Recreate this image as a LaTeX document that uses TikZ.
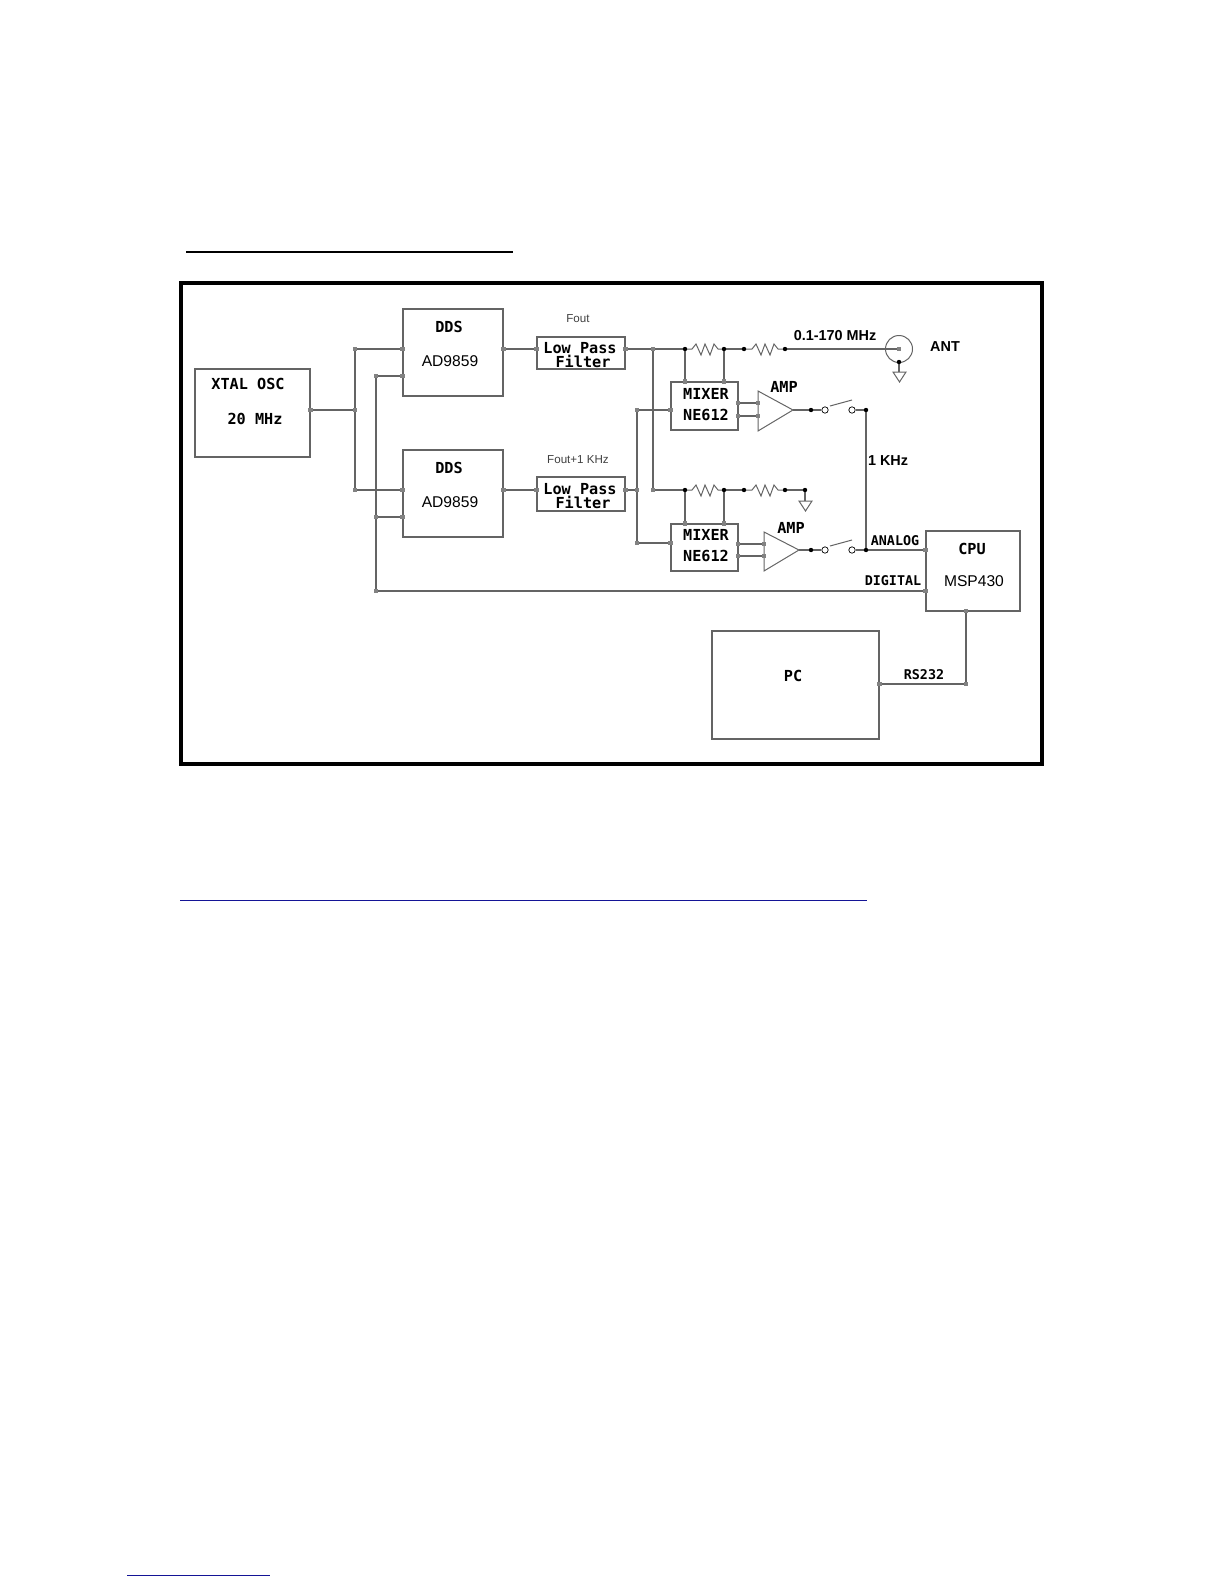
\documentclass[tikz,border=0pt]{standalone}
\usepackage{fontspec}
\setmainfont{Liberation Sans}
\newfontfamily\pixfont{DejaVu Sans Mono}[Scale=1]
\usetikzlibrary{calc}

\definecolor{wire}{RGB}{100,100,100}
\definecolor{pin}{RGB}{130,130,130}
\definecolor{linkblue}{RGB}{20,20,150}

\tikzset{
  blockbox/.style={draw=wire, line width=0.6pt, inner sep=0pt},
  wireline/.style={draw=wire, line width=0.55pt},
  pinspot/.style={fill=pin, minimum size=2.3pt, inner sep=0pt, draw=none, rectangle},
  dotspot/.style={fill=black, circle, minimum size=2.2pt, inner sep=0pt, draw=none},
  contact/.style={draw=black, fill=white, circle, minimum size=3.2pt, inner sep=0pt, line width=0.35pt},
  pixlabel/.style={font=\pixfont\bfseries\fontsize{7.6}{8}\selectfont, inner sep=0pt},
  pixsmall/.style={font=\pixfont\bfseries\fontsize{6.7}{7}\selectfont, inner sep=0pt},
  partlabel/.style={font=\fontsize{7.8}{9}\selectfont, inner sep=0pt},
  boldlabel/.style={font=\bfseries\fontsize{7.2}{8}\selectfont, inner sep=0pt},
  freqlabel/.style={font=\fontsize{5.8}{6}\selectfont, text=black!75, inner sep=0pt}
}

\begin{document}
\begin{tikzpicture}[x=0.5pt,y=-0.5pt]
\useasboundingbox (0,0) rectangle (1224,1584);

% page rules
\coordinate (ruleA) at (186,252);
\coordinate (ruleB) at (513,252);
\coordinate (ruleC) at (180,900);
\coordinate (ruleD) at (867,900);
\coordinate (ruleE) at (127,1575);
\coordinate (ruleF) at (270,1575);
\draw[line width=1pt] (ruleA)--(ruleB);
\draw[line width=0.5pt, linkblue] (ruleC)--(ruleD);
\draw[line width=0.5pt, linkblue] (ruleE)--(ruleF);

% frame
\draw[line width=2pt] (181,283) rectangle (1042,764);

% blocks
\node[blockbox, minimum width=57.5pt, minimum height=44pt] (xtal) at (252.5,413) {};
\node[blockbox, minimum width=50pt, minimum height=43.5pt] (ddsA) at (453,352.5) {};
\node[blockbox, minimum width=50pt, minimum height=43.5pt] (ddsB) at (453,493.5) {};
\node[blockbox, minimum width=44pt, minimum height=16pt] (lpfA) at (581,353) {};
\node[blockbox, minimum width=44pt, minimum height=17pt] (lpfB) at (581,494) {};
\node[blockbox, minimum width=33.5pt, minimum height=24pt] (mixA) at (704.5,406) {};
\node[blockbox, minimum width=33.5pt, minimum height=23.5pt] (mixB) at (704.5,547.5) {};
\node[blockbox, minimum width=47pt, minimum height=40pt] (cpu) at (973,571) {};
\node[blockbox, minimum width=83.5pt, minimum height=54pt] (pc) at (795.5,685) {};
\node[draw=wire, circle, line width=0.5pt, minimum size=13.5pt, inner sep=0pt] (ant) at (899,349) {};

% amplifiers
\draw[wireline, line width=0.5pt] (758,391)--(793,410)--(758,431)--cycle;
\draw[wireline, line width=0.5pt] (764,532)--(799,550)--(764,571)--cycle;
\coordinate (ampAtip) at (793,410);
\coordinate (ampBtip) at (799,550);

% junctions
\coordinate (xtalOut) at (xtal.east |- 0,410);
\coordinate (clkMid) at (355,410);
\coordinate (clkA) at (355,349);
\coordinate (clkB) at (355,490);
\coordinate (ddsAclk) at (ddsA.west |- 0,349);
\coordinate (ddsBclk) at (ddsB.west |- 0,490);
\coordinate (digA) at (376,376);
\coordinate (digB) at (376,517);
\coordinate (digC) at (376,591);
\coordinate (ddsAdig) at (ddsA.west |- 0,376);
\coordinate (ddsBdig) at (ddsB.west |- 0,517);
\coordinate (cpuDig) at (cpu.west |- 0,591);
\coordinate (cpuAna) at (cpu.west |- 0,550);
\coordinate (cpuSer) at (966,611);
\coordinate (serBend) at (966,684);
\coordinate (pcSer) at (pc.east |- 0,684);
\coordinate (ddsAout) at (ddsA.east |- 0,349);
\coordinate (ddsBout) at (ddsB.east |- 0,490);
\coordinate (lpfAin) at (lpfA.west |- 0,349);
\coordinate (lpfBin) at (lpfB.west |- 0,490);
\coordinate (lpfAout) at (lpfA.east |- 0,349);
\coordinate (lpfBout) at (lpfB.east |- 0,490);
\coordinate (splitA) at (653,349);
\coordinate (splitB) at (653,490);
\coordinate (loTop) at (637,410);
\coordinate (loMid) at (637,490);
\coordinate (loBot) at (637,543);
\coordinate (mixAlo) at (mixA.west |- 0,410);
\coordinate (mixBlo) at (mixB.west |- 0,543);
\coordinate (mixAp) at (738,403);
\coordinate (mixAq) at (738,416);
\coordinate (ampAp) at (758,403);
\coordinate (ampAq) at (758,416);
\coordinate (mixBp) at (738,544);
\coordinate (mixBq) at (738,556);
\coordinate (ampBp) at (764,544);
\coordinate (ampBq) at (764,556);
\coordinate (resAa) at (685,349);
\coordinate (resAb) at (724,349);
\coordinate (resAc) at (744,349);
\coordinate (resAd) at (785,349);
\coordinate (resBa) at (685,490);
\coordinate (resBb) at (724,490);
\coordinate (resBc) at (744,490);
\coordinate (resBd) at (785,490);
\coordinate (gndB) at (805,490);
\coordinate (gndA) at (899,362);
\coordinate (busTop) at (866,410);
\coordinate (busBot) at (866,550);

% wires
\draw[wireline] (xtalOut)--(clkMid);
\draw[wireline] (clkA)--(clkB);
\draw[wireline] (clkA)--(ddsAclk);
\draw[wireline] (clkB)--(ddsBclk);
\draw[wireline] (digA)--(digC);
\draw[wireline] (digA)--(ddsAdig);
\draw[wireline] (digB)--(ddsBdig);
\draw[wireline] (digC)--(cpuDig);
\draw[wireline] (ddsAout)--(lpfAin);
\draw[wireline] (ddsBout)--(lpfBin);
\draw[wireline] (lpfAout)--(resAa);
\draw[wireline] (lpfBout)--(loMid);
\draw[wireline] (splitA)--(splitB)--(resBa);
\draw[wireline] (loTop)--(loBot);
\draw[wireline] (loTop)--(mixAlo);
\draw[wireline] (loBot)--(mixBlo);
\draw[wireline] (resAa)--(resAa |- mixA.north);
\draw[wireline] (resAb)--(resAb |- mixA.north);
\draw[wireline] (resBa)--(resBa |- mixB.north);
\draw[wireline] (resBb)--(resBb |- mixB.north);
\draw[wireline] (mixAp)--(ampAp);
\draw[wireline] (mixAq)--(ampAq);
\draw[wireline] (mixBp)--(ampBp);
\draw[wireline] (mixBq)--(ampBq);
\draw[wireline] (resAb)--(resAc);
\draw[wireline] (resBb)--(resBc);
\draw[wireline] (resAd)--(ant.center);
\draw[wireline] (resBd)--(gndB);
\draw[wireline] (busTop)--(busBot)--(cpuAna);
\draw[wireline] (cpuSer)--(serBend)--(pcSer);

% resistors
\draw[wireline, line width=0.5pt] (resAa)--(692,349)--(696,344)--(701,355)--(705,344)--(710,355)--(714,344)--(718,349)--(resAb);
\draw[wireline, line width=0.5pt] (resBa)--(692,490)--(696,485)--(701,496)--(705,485)--(710,496)--(714,485)--(718,490)--(resBb);
\draw[wireline, line width=0.5pt] (resAc)--(752,349)--(756,344)--(761,355)--(765,344)--(770,355)--(774,344)--(778,349)--(resAd);
\draw[wireline, line width=0.5pt] (resBc)--(752,490)--(756,485)--(761,496)--(765,485)--(770,496)--(774,485)--(778,490)--(resBd);

% grounds
\draw[wireline] (gndA)--(899,372);
\draw[wireline, line width=0.5pt] (893,372)--(906,372)--(899.5,382)--cycle;
\draw[wireline] (gndB)--(805,501);
\draw[wireline, line width=0.5pt] (799,501)--(812,501)--(805.5,511)--cycle;

% switches
\node[contact] (swAa) at (825,410) {};
\node[contact] (swAb) at (852,410) {};
\node[contact] (swBa) at (825,550) {};
\node[contact] (swBb) at (852,550) {};
\draw[wireline] (ampAtip)--(swAa);
\draw[wireline] (swAb)--(busTop);
\draw[wireline] (ampBtip)--(swBa);
\draw[wireline] (swBb)--(busBot);
\draw[wireline, line width=0.5pt] (830,406)--(852,400);
\draw[wireline, line width=0.5pt] (830,546)--(852,540);

% grey pins
\node[pinspot] at (xtalOut) {};
\node[pinspot] at (clkMid) {};
\node[pinspot] at (clkA) {};
\node[pinspot] at (clkB) {};
\node[pinspot] at (ddsAclk) {};
\node[pinspot] at (ddsBclk) {};
\node[pinspot] at (digA) {};
\node[pinspot] at (digB) {};
\node[pinspot] at (digC) {};
\node[pinspot] at (ddsAdig) {};
\node[pinspot] at (ddsBdig) {};
\node[pinspot] at (cpuDig) {};
\node[pinspot] at (cpuAna) {};
\node[pinspot] at (cpuSer) {};
\node[pinspot] at (serBend) {};
\node[pinspot] at (pcSer) {};
\node[pinspot] at (ddsAout) {};
\node[pinspot] at (ddsBout) {};
\node[pinspot] at (lpfAin) {};
\node[pinspot] at (lpfBin) {};
\node[pinspot] at (lpfAout) {};
\node[pinspot] at (lpfBout) {};
\node[pinspot] at (splitA) {};
\node[pinspot] at (splitB) {};
\node[pinspot] at (loTop) {};
\node[pinspot] at (loMid) {};
\node[pinspot] at (loBot) {};
\node[pinspot] at (mixAlo) {};
\node[pinspot] at (mixBlo) {};
\node[pinspot] at (mixAp) {};
\node[pinspot] at (mixAq) {};
\node[pinspot] at (ampAp) {};
\node[pinspot] at (ampAq) {};
\node[pinspot] at (mixBp) {};
\node[pinspot] at (mixBq) {};
\node[pinspot] at (ampBp) {};
\node[pinspot] at (ampBq) {};
\node[pinspot] at (resAa |- mixA.north) {};
\node[pinspot] at (resAb |- mixA.north) {};
\node[pinspot] at (resBa |- mixB.north) {};
\node[pinspot] at (resBb |- mixB.north) {};
\node[pinspot] at (ant.center) {};

% black dots
\node[dotspot] at (resAa) {};
\node[dotspot] at (resAb) {};
\node[dotspot] at (resAc) {};
\node[dotspot] at (resAd) {};
\node[dotspot] at (resBa) {};
\node[dotspot] at (resBb) {};
\node[dotspot] at (resBc) {};
\node[dotspot] at (resBd) {};
\node[dotspot] at (gndA) {};
\node[dotspot] at (gndB) {};
\node[dotspot] at (811,410) {};
\node[dotspot] at (811,550) {};
\node[dotspot] at (busTop) {};
\node[dotspot] at (busBot) {};

% labels
\node[pixlabel] at (248,384) {XTAL OSC};
\node[pixlabel] at (255,419) {20 MHz};
\node[pixlabel] at (449,327) {DDS};
\node[partlabel] at (450,361) {AD9859};
\node[pixlabel] at (449,468) {DDS};
\node[partlabel] at (450,502) {AD9859};
\node[freqlabel] at (578,319) {Fout};
\node[freqlabel] at (578,460) {Fout+1 KHz};
\node[pixlabel] at (580,348) {Low Pass};
\node[pixlabel] at (583,361) {Filter};
\node[pixlabel] at (580,489) {Low Pass};
\node[pixlabel] at (583,502) {Filter};
\node[pixlabel] at (706,394) {MIXER};
\node[pixlabel] at (706,415) {NE612};
\node[pixlabel] at (706,535) {MIXER};
\node[pixlabel] at (706,556) {NE612};
\node[pixlabel] at (784,387) {AMP};
\node[pixlabel] at (791,528) {AMP};
\node[boldlabel] at (835,336) {0.1-170 MHz};
\node[boldlabel] at (945,347) {ANT};
\node[boldlabel] at (888,461) {1 KHz};
\node[pixsmall] at (895,541) {ANALOG};
\node[pixsmall] at (893,581) {DIGITAL};
\node[pixsmall] at (924,675) {RS232};
\node[pixlabel] at (972,549) {CPU};
\node[partlabel] at (974,581) {MSP430};
\node[pixlabel] at (793,676) {PC};
\end{tikzpicture}
\end{document}
